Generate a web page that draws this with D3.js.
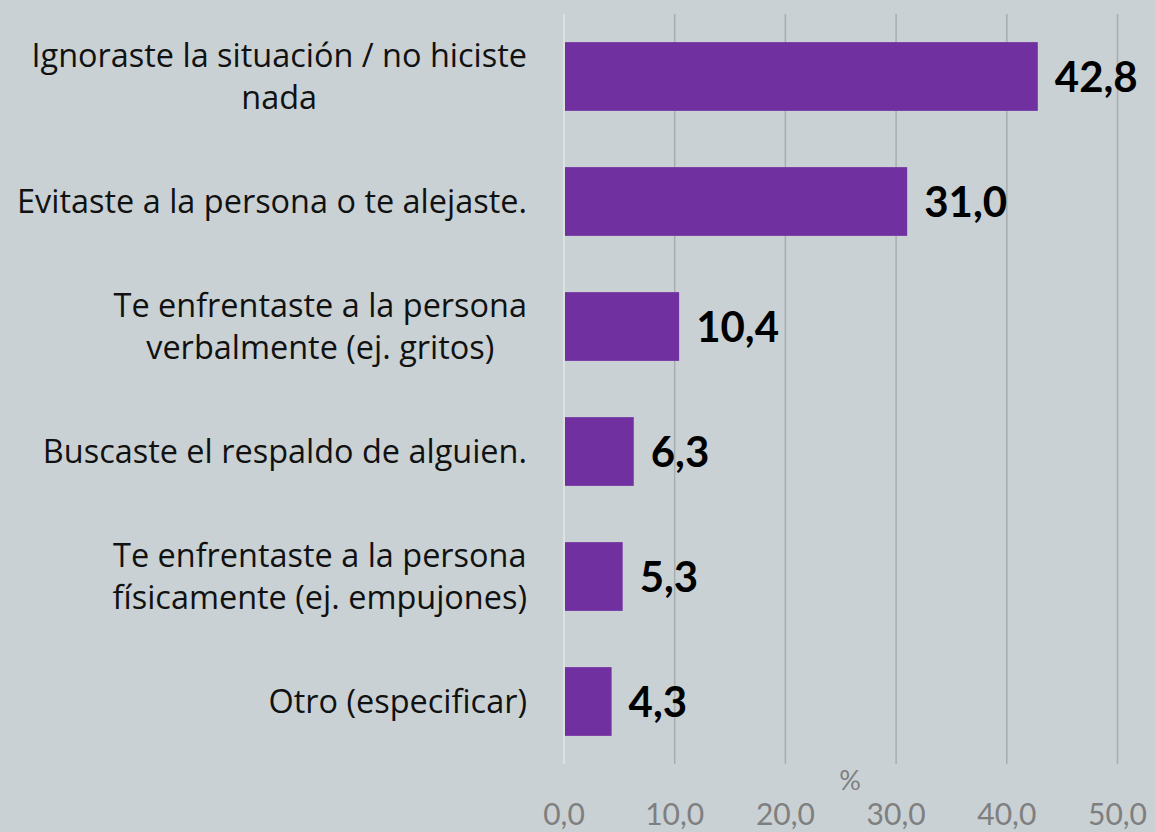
<!DOCTYPE html>
<html>
<head>
<meta charset="utf-8">
<script src="https://cdn.jsdelivr.net/npm/d3@7"></script>
<style>
  html, body { margin: 0; padding: 0; background: #c9d1d4; }
  svg { display: block; font-family: Lato, "Open Sans", sans-serif; }
</style>
</head>
<body>
<div id="chart"></div>
<script>
// Responses and their share (%)
const categories = [
  ["Ignoraste la situación / no hiciste", "nada"],
  ["Evitaste a la persona o te alejaste."],
  ["Te enfrentaste a la persona", "verbalmente (ej. gritos)"],
  ["Buscaste el respaldo de alguien."],
  ["Te enfrentaste a la persona", "físicamente (ej. empujones)"],
  ["Otro (especificar)"]
];
const values = [42.8, 31.0, 10.4, 6.3, 5.3, 4.3];
const ticks = [0, 10, 20, 30, 40, 50];
const axisTitle = "%";

const W = 1155, H = 832;
const fmt = (v) => v.toFixed(1).replace(".", ",");

const svg = d3.select("#chart").append("svg").attr("width", W).attr("height", H);

const x = d3.scaleLinear().domain([0, 50]).range([564, 1117.5]);
const y = d3.scaleBand().domain(d3.range(values.length)).range([14, 764]).paddingInner(0.45).paddingOuter(0.225);

// gridlines
svg.append("g")
  .selectAll("line")
  .data(ticks)
  .join("line")
  .attr("x1", (d) => x(d)).attr("x2", (d) => x(d))
  .attr("y1", 14).attr("y2", 764)
  .attr("stroke", (d) => (d === 0 ? "#e2e6e7" : "#a9adae"))
  .attr("stroke-width", 1.5);

// bars
svg.append("g")
  .selectAll("rect")
  .data(values)
  .join("rect")
  .attr("x", x(0) + 1)
  .attr("y", (d, i) => y(i))
  .attr("width", (d) => x(d) - x(0) - 1)
  .attr("height", y.bandwidth())
  .attr("fill", "#7030a0");

// value labels
svg.append("g")
  .selectAll("text")
  .data(values)
  .join("text")
  .attr("x", (d) => x(d) + 17)
  .attr("y", (d, i) => y(i) + y.bandwidth() / 2)
  .attr("dy", "0.36em")
  .attr("font-size", 42)
  .attr("font-weight", "bold")
  .attr("fill", "#000")
  .text(fmt);

// category labels: block right-aligned at 527, lines centred within the block
const LABEL_RIGHT = 527;
const labelFont = "'Open Sans', sans-serif";
const g = svg.append("g").attr("font-family", labelFont).attr("fill", "#111");
let fs = 30;
// fit the longest line to the reference width (~510px)
const probe = g.append("text").attr("font-size", fs).text(categories[1][0]);
fs = fs * 510 / probe.node().getComputedTextLength();
probe.remove();

categories.forEach((lines, i) => {
  const cy = y(i) + y.bandwidth() / 2;
  const lh = 42;
  const y0 = cy - ((lines.length - 1) * lh) / 2;
  const t = g.append("text").attr("font-size", fs).attr("text-anchor", "middle");
  const spans = t.selectAll("tspan")
    .data(lines)
    .join("tspan")
    .attr("y", (d, j) => y0 + j * lh)
    .attr("dy", "0.35em")
    .text((d) => d);
  const widths = spans.nodes().map((n) => n.getComputedTextLength());
  const blockW = d3.max(widths);
  spans.attr("x", LABEL_RIGHT - blockW / 2);
});

// x axis tick labels
svg.append("g")
  .selectAll("text")
  .data(ticks)
  .join("text")
  .attr("x", (d) => x(d))
  .attr("y", 825)
  .attr("text-anchor", "middle")
  .attr("font-size", 30)
  .attr("fill", "#7f7f7f")
  .text(fmt);

svg.append("text")
  .attr("x", 850)
  .attr("y", 790)
  .attr("text-anchor", "middle")
  .attr("font-size", 27)
  .attr("fill", "#7f7f7f")
  .text(axisTitle);
</script>
</body>
</html>
